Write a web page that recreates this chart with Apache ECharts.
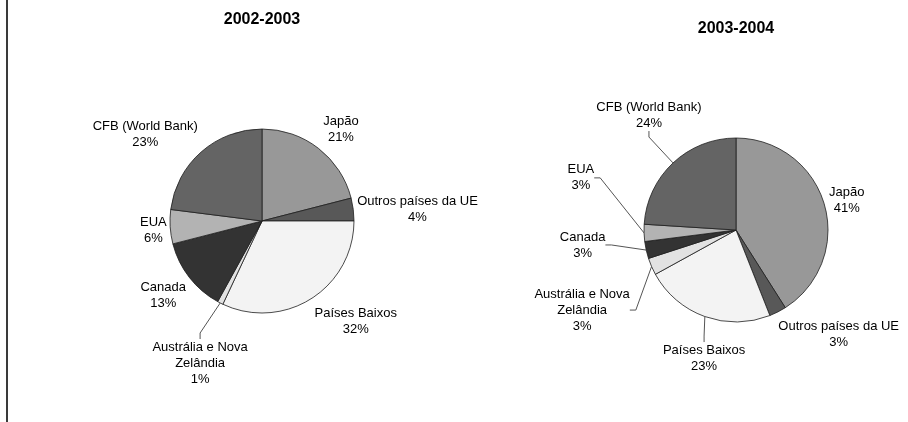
<!DOCTYPE html>
<html><head><meta charset="utf-8">
<script src="https://cdn.jsdelivr.net/npm/echarts@6/dist/echarts.min.js"></script>
<style>html,body{margin:0;padding:0;background:#fff}#c{width:908px;height:422px}</style>
</head><body><div id="c"></div>
<script>
const categories = ['Japão','Outros países da UE','Países Baixos','Austrália e Nova Zelândia','Canada','EUA','CFB (World Bank)'];
const labelNames = ['Japão','Outros países da UE','Países Baixos','Austrália e Nova\nZelândia','Canada','EUA','CFB (World Bank)'];
const titles = ['2002-2003','2003-2004'];
const values2002 = [21,4,32,1,13,6,23];
const values2004 = [41,3,23,3,3,3,24];
const sliceColors = ['#989898','#585858','#f3f3f3','#e2e2e2','#333333','#b3b3b3','#646464'];

// label placement relative to slice mid-angle: [distance from centre, angle offset in degrees]
const pies = [
  {values: values2002, center:[262,221], radius:92, titleTop:12,
   labelPlace:[[122,2.5],[156,2.6],[137,-10.8],[154,-3.3],[123,1.2],[109,-0.9],[146,-11.7]],
   leader:[0,0,0,1,0,0,0]},
  {values: values2004, center:[736,230], radius:92, titleTop:21,
   labelPlace:[[115,0.6],[146,-17.7],[131,-5.7],[173,-3.8],[154,7.4],[164,20.7],[145,6.3]],
   leader:[0,0,1,1,1,1,1]}
];

const FONT = 'Liberation Sans, Arial, sans-serif';
const chart = echarts.init(document.getElementById('c'), null, {renderer:'canvas'});

function makeLayout(p){
  return function(params){
    const vals = p.values;
    const total = vals.reduce((a,b)=>a+b,0);
    let before = 0;
    for (let i=0;i<params.dataIndex;i++) before += vals[i];
    const mid = (before + vals[params.dataIndex]/2)/total*360;
    const pl = p.labelPlace[params.dataIndex];
    const a = (mid + pl[1]) * Math.PI/180;
    return {
      x: p.center[0] + pl[0]*Math.sin(a),
      y: p.center[1] - pl[0]*Math.cos(a) + 1,
      align:'center', verticalAlign:'middle'
    };
  };
}

const option = {
  backgroundColor:'#fff',
  animation:false,
  title: pies.map((p,i)=>({
    text: titles[i], left: p.center[0], top: p.titleTop, textAlign:'center', padding:0,
    textStyle:{fontFamily:FONT, fontWeight:'bold', fontSize:16, color:'#000'}
  })),
  graphic:[{type:'line', shape:{x1:7,y1:0,x2:7,y2:422}, style:{stroke:'#3a3a3a', lineWidth:2}, silent:true}],
  series: pies.map((p)=>({
    type:'pie',
    center:p.center,
    radius:p.radius,
    startAngle:90,
    clockwise:true,
    avoidLabelOverlap:false,
    minShowLabelAngle:0,
    emphasis:{disabled:true},
    itemStyle:{borderColor:'#1e1e1e', borderWidth:0.8},
    label:{
      show:true, position:'outside',
      formatter:(q)=>labelNames[q.dataIndex]+'\n'+q.value+'%',
      fontFamily:FONT, fontSize:13, lineHeight:16, color:'#000'
    },
    labelLine:{show:true, length:8, length2:6, smooth:false, lineStyle:{color:'#555', width:1}},
    labelLayout: makeLayout(p),
    data: categories.map((c,k)=>({
      name:c, value:p.values[k],
      itemStyle:{color:sliceColors[k]},
      labelLine:{show: !!p.leader[k]}
    }))
  }))
};
chart.setOption(option);
</script>
</body></html>
